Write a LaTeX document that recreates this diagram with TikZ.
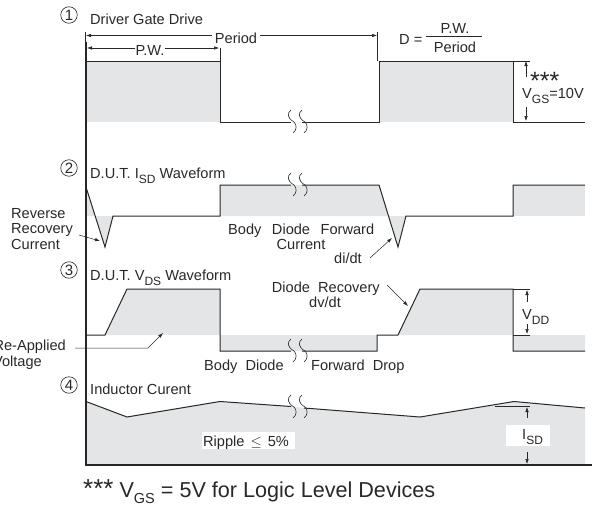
\documentclass[tikz,border=0pt]{standalone}
\usepackage{amsmath}
\usepackage{amssymb}
\usepackage{fontspec}
\setmainfont{Liberation Sans}
\usepackage{tikz}
\usetikzlibrary{arrows.meta}
\definecolor{wavegray}{RGB}{228,229,231}
\definecolor{inkgray}{RGB}{40,40,40}
\newcommand{\Sub}[1]{\raisebox{-.38em}{\fontsize{12}{14}\selectfont #1}}
\newcommand{\BreakMark}[2]{%
	\draw[line width=.6pt,inkgray,shift={(#1,#2)}] (0,-12) .. controls (-4,-9) and (-4,-4) .. (3,0) .. controls (6,3) and (6,8) .. (2,11);
	\draw[line width=.6pt,inkgray,shift={(#1+11,#2)}] (0,-12) .. controls (-4,-9) and (-4,-4) .. (3,0) .. controls (6,3) and (6,8) .. (2,11);
}
\tikzset{
	wave/.style={line width=1pt,inkgray,line join=miter},
	dim/.style={line width=.5pt,inkgray,-{Latex[length=5pt,width=3.5pt]}},
	tick/.style={line width=.6pt,inkgray},
	lab/.style={font=\fontsize{14.6}{15.5}\selectfont,text=inkgray,inner sep=0pt},
	num/.style={circle,draw=inkgray,line width=.6pt,inner sep=0pt,minimum size=16.5pt,font=\fontsize{15}{15}\selectfont,text=inkgray},
}
\begin{document}
\begin{tikzpicture}[>=latex,x=1pt,y=-1pt]
		\useasboundingbox (0,0) rectangle (592,506);
		% gray areas
		\fill[wavegray] (86,61) rectangle (220,122);
		\fill[wavegray] (379,61) rectangle (513,122);
		\fill[wavegray] (86,187) -- (95,216) -- (86,216) -- cycle;
		\fill[wavegray] (95,216) -- (105,247) -- (113,216) -- cycle;
		\fill[wavegray] (220,185) -- (379,185) -- (398,247) -- (406,216) -- (220,216) -- cycle;
		\fill[wavegray] (513,185) rectangle (585,216);
		\fill[wavegray] (105,335) -- (127,289) -- (220,289) -- (220,351) -- (377,351) -- (377,335) -- cycle;
		\fill[wavegray] (398,335) -- (420,289) -- (513,289) -- (513,351) -- (585,351) -- (585,335) -- cycle;
		\fill[wavegray] (86,401.5) -- (127,417) -- (220,401.5) -- (292,406.5) -- (305,408) -- (420,417) -- (514,401.5) -- (585,408) -- (585,464) -- (86,464) -- cycle;
		
		% waveforms
		\draw[wave] (86,61) -- (220,61) -- (220,122) -- (291,122);
		\draw[wave] (302,122) -- (379,122) -- (379,61) -- (513,61) -- (513,122) -- (585,122);
		\draw[wave] (86,187) -- (105,247) -- (113,216) -- (220,216) -- (220,185) -- (291,185);
		\draw[wave] (302,185) -- (379,185) -- (398,247) -- (406,216) -- (513,216) -- (513,185) -- (585,185);
		\draw[wave] (86,335) -- (105,335) -- (127,289) -- (220,289) -- (220,351) -- (291,351);
		\draw[wave] (302,351) -- (377,351) -- (377,335) -- (398,335) -- (420,289) -- (513,289) -- (513,351) -- (585,351);
		\draw[wave] (86,401.5) -- (127,417) -- (220,401.5) -- (291,406.5);
		\draw[wave] (304,408) -- (420,417) -- (514,401.5) -- (585,408);
		\BreakMark{291}{122}
		\BreakMark{291}{185}
		\BreakMark{291}{351}
		\BreakMark{291}{407}
		
		% axes
		\draw[line width=2pt,black!85] (85.5,42) -- (85.5,464.5) -- (592,464.5);
		
		% circled numbers
		\node[num] (n1) at (69,15) {1};
		\node[num] (n2) at (69,168) {2};
		\node[num] (n3) at (69,270) {3};
		\node[num] (n4) at (69,385) {4};
		
		% titles
		\node[lab,anchor=base west] (drive) at (90,24) {Driver Gate Drive};
		\node[lab,anchor=base west] (isd) at (90,178) {D.U.T. I\Sub{SD} Waveform};
		\node[lab,anchor=base west] (vds) at (90,280) {D.U.T. V\Sub{DS} Waveform};
		\node[lab,anchor=base west] (ind) at (90,394) {Inductor Curent};
		
		% period and pulse width
		\node[lab,anchor=base] (period) at (236,43) {Period};
		\node[lab,anchor=base] (pw) at (150,55) {P.W.};
		\coordinate (perL) at (86,35.5);
		\coordinate (perR) at (377,35.5);
		\coordinate (pwL) at (87,48);
		\coordinate (pwR) at (219,48);
		\draw[dim] (period.west |- perL) ++(-3,0) -- (perL);
		\draw[dim] (period.east |- perR) ++(3,0) -- (perR);
		\draw[dim] (pw.west |- pwL) -- (pwL);
		\draw[dim] (pw.east |- pwR) -- (pwR);
		\draw[tick] (85.5,32) -- (85.5,42);
		\draw[tick] (377.5,32) -- (377.5,61);
		\draw[tick] (220,48) -- (220,61);
		
		% duty cycle
		\node[lab,anchor=base west] (duty) at (399,44) {D =};
		\node[lab,anchor=base] (dtop) at (455,34) {P.W.};
		\node[lab,anchor=base] (dbot) at (455,52) {Period};
		\draw[tick] (426,36.5) -- (482,36.5);
		
		% gate voltage
		\node[lab,anchor=base west,font=\fontsize{25}{25}\selectfont] (stars) at (530,89) {***};
		\node[lab,anchor=base west] (vgs) at (522,98) {V\Sub{GS}=10V};
		\coordinate (vgsT) at (526,61);
		\coordinate (vgsB) at (526,121);
		\coordinate (vgsTs) at (526,77);
		\coordinate (vgsBs) at (526,107);
		\draw[dim] (vgsTs) -- (vgsT);
		\draw[dim] (vgsBs) -- (vgsB);
		\draw[tick] (513,61) -- (530,61);
		
		% diode labels
		\node[lab,anchor=west,align=left] (rev) at (11,229) {Reverse\\Recovery\\Current};
		\coordinate (revA) at (79,235);
		\coordinate (revB) at (100,241);
		\draw[dim] (revA) -- (revB);
		\node[lab,anchor=base west] (bdf) at (228,234) {Body\hspace{10.5pt}Diode\hspace{10.5pt}Forward};
		\node[lab,anchor=base] (cur) at (301,249) {Current};
		\node[lab,anchor=base] (didt) at (348,263) {di/dt};
		\coordinate (didtA) at (370,258);
		\coordinate (didtB) at (392,238);
		\draw[dim] (didtA) -- (didtB);
		\node[lab,anchor=base east] (rec) at (380,292) {Diode\ \ Recovery};
		\node[lab,anchor=base] (dvdt) at (325,307) {dv/dt};
		\coordinate (dvdtA) at (387,285);
		\coordinate (dvdtB) at (408,306);
		\draw[dim] (dvdtA) -- (dvdtB);
		\node[lab,anchor=base east] (reapp) at (66,350) {Re-Applied};
		\node[lab,anchor=base east] (volt) at (42,366) {Voltage};
		\coordinate (reA) at (75,348);
		\coordinate (reM) at (148,348);
		\coordinate (reB) at (163,333);
		\draw[dim] (reA) -- (reM) -- (reB);
		\node[lab,anchor=base west] (bd) at (204,370) {Body\ \ Diode};
		\node[lab,anchor=base west] (fd) at (311,370) {Forward\ \ Drop};
		
		% drain voltage
		\node[lab,anchor=base west] (vdd) at (522,319) {V\Sub{DD}};
		\coordinate (vddT) at (527,290);
		\coordinate (vddB) at (527,334);
		\coordinate (vddTs) at (527,302);
		\coordinate (vddBs) at (527,324);
		\draw[dim] (vddTs) -- (vddT);
		\draw[dim] (vddBs) -- (vddB);
		\draw[tick] (513,289) -- (530,289);
		\draw[tick] (513,335) -- (530,335);
		
		% inductor labels
		\fill[white] (202,432) rectangle (295,449);
		\fill[white] (506,425) rectangle (550,446);
		\node[lab,anchor=base west] (rip) at (203,446) {Ripple\hspace{6pt}$\leq$\hspace{6pt}5\%};
		\node[lab,anchor=base west] (isdb) at (522,439) {I\Sub{SD}};
		\coordinate (isdT) at (527,407);
		\coordinate (isdB) at (527,464);
		\coordinate (isdTs) at (527,418);
		\coordinate (isdBs) at (527,452);
		\draw[dim] (isdTs) -- (isdT);
		\draw[dim] (isdBs) -- (isdB);
		\draw[tick] (495,406) -- (530,406);
		
		% footnote
		\node[lab,anchor=base west,font=\fontsize{21.6}{24}\selectfont] (note) at (83,497) {{\fontsize{26}{26}\selectfont ***} V\raisebox{-.28em}{\fontsize{14.5}{16}\selectfont GS} = 5V for Logic Level Devices};
	\end{tikzpicture}
\end{document}
